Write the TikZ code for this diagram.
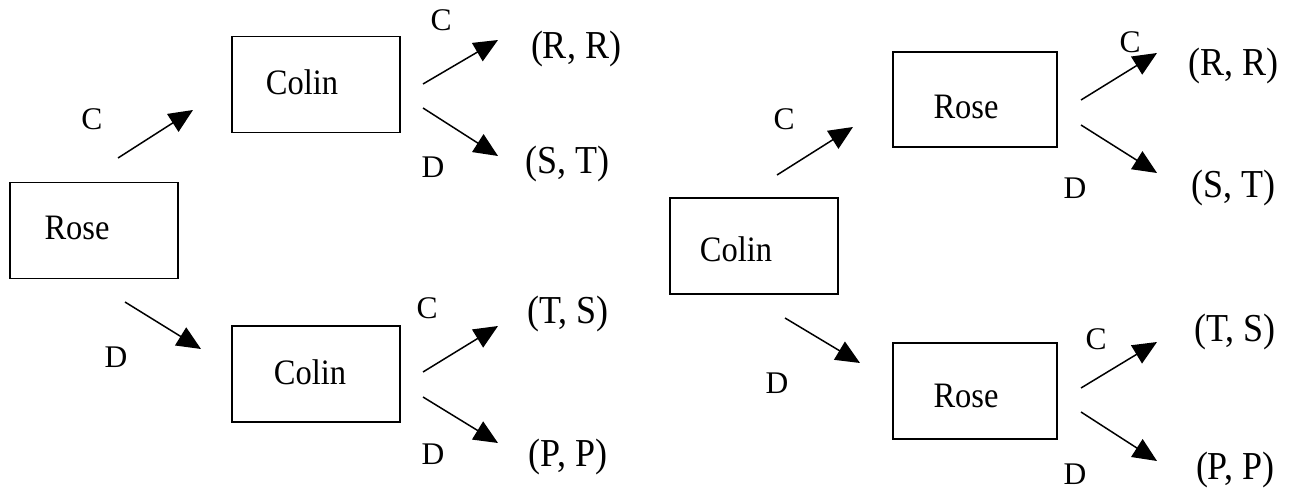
\documentclass[tikz,border=0pt]{standalone}
\usepackage{fontspec}
\setmainfont{Liberation Serif}
\usetikzlibrary{arrows.meta}
\newcommand{\tallbox}[1]{\scalebox{1}[1.1]{#1}}
\tikzset{
  player/.style={draw, line width=1.3pt, minimum width=168pt, minimum height=96pt, inner sep=0pt},
  who/.style={inner sep=0pt, font=\fontsize{32.5}{32.5}\selectfont},
  move/.style={inner sep=0pt, font=\fontsize{31.5}{31.5}\selectfont},
  payoff/.style={inner sep=0pt, font=\fontsize{36}{36}\selectfont},
  branch/.style={line width=1.5pt, -{Triangle[length=24pt,width=21pt]}},
}
\begin{document}
\begin{tikzpicture}[x=1pt,y=-1pt]
\useasboundingbox (0,0) rectangle (1297,489);

% ---- Rose moves first ----
\node[player] (roseL) at (94,230.5) {};
\node[who] (roseLt) at (77,228) {\tallbox{Rose}};
\node[player] (colinLa) at (316,84.5) {};
\node[who] (colinLat) at (302,82) {\tallbox{Colin}};
\node[player] (colinLb) at (316,374) {};
\node[who] (colinLbt) at (310,372) {\tallbox{Colin}};

\coordinate (l1s) at (118,158); \coordinate (l1e) at (193,110);
\coordinate (l2s) at (125,302); \coordinate (l2e) at (201,349);
\coordinate (l3s) at (423,84);  \coordinate (l3e) at (498,40);
\coordinate (l4s) at (423,108); \coordinate (l4e) at (498,156);
\coordinate (l5s) at (423,372); \coordinate (l5e) at (498,326);
\coordinate (l6s) at (423,397); \coordinate (l6e) at (498,443);
\draw[branch] (l1s) -- (l1e);
\draw[branch] (l2s) -- (l2e);
\draw[branch] (l3s) -- (l3e);
\draw[branch] (l4s) -- (l4e);
\draw[branch] (l5s) -- (l5e);
\draw[branch] (l6s) -- (l6e);

\node[move] (lc1) at (92,119) {C};
\node[move] (ld1) at (116,357) {D};
\node[move] (lc2) at (441,20) {C};
\node[move] (ld2) at (433,167) {D};
\node[move] (lc3) at (427,308) {C};
\node[move] (ld3) at (433,454) {D};

\node[payoff] (lp1) at (576,49) {\tallbox{(R, R)}};
\node[payoff] (lp2) at (567,164) {\tallbox{(S, T)}};
\node[payoff] (lp3) at (568,314) {\tallbox{(T, S)}};
\node[payoff] (lp4) at (568,457) {\tallbox{(P, P)}};

% ---- Colin moves first ----
\node[player] (colinR) at (754,246) {};
\node[who] (colinRt) at (736,249) {\tallbox{Colin}};
\node[player, minimum width=164pt, minimum height=95pt] (roseRa) at (975,99.5) {};
\node[who] (roseRat) at (966,107) {\tallbox{Rose}};
\node[player, minimum width=164pt] (roseRb) at (975,391) {};
\node[who] (roseRbt) at (966,396) {\tallbox{Rose}};

\coordinate (r1s) at (777,175);  \coordinate (r1e) at (853,127);
\coordinate (r2s) at (785,318);  \coordinate (r2e) at (860,363);
\coordinate (r3s) at (1081,100); \coordinate (r3e) at (1157,53);
\coordinate (r4s) at (1081,125); \coordinate (r4e) at (1157,173);
\coordinate (r5s) at (1081,388); \coordinate (r5e) at (1157,342);
\coordinate (r6s) at (1081,412); \coordinate (r6e) at (1157,461);
\draw[branch] (r1s) -- (r1e);
\draw[branch] (r2s) -- (r2e);
\draw[branch] (r3s) -- (r3e);
\draw[branch] (r4s) -- (r4e);
\draw[branch] (r5s) -- (r5e);
\draw[branch] (r6s) -- (r6e);

\node[move] (rc1) at (784,119) {C};
\node[move] (rd1) at (777,383) {D};
\node[move] (rc2) at (1130,42) {C};
\node[move] (rd2) at (1075,188) {D};
\node[move] (rc3) at (1096,339) {C};
\node[move] (rd3) at (1075,474) {D};

\node[payoff] (rp1) at (1233,66) {\tallbox{(R, R)}};
\node[payoff] (rp2) at (1233,188) {\tallbox{(S, T)}};
\node[payoff] (rp3) at (1235,332) {\tallbox{(T, S)}};
\node[payoff] (rp4) at (1235,470) {\tallbox{(P, P)}};
\end{tikzpicture}
\end{document}
